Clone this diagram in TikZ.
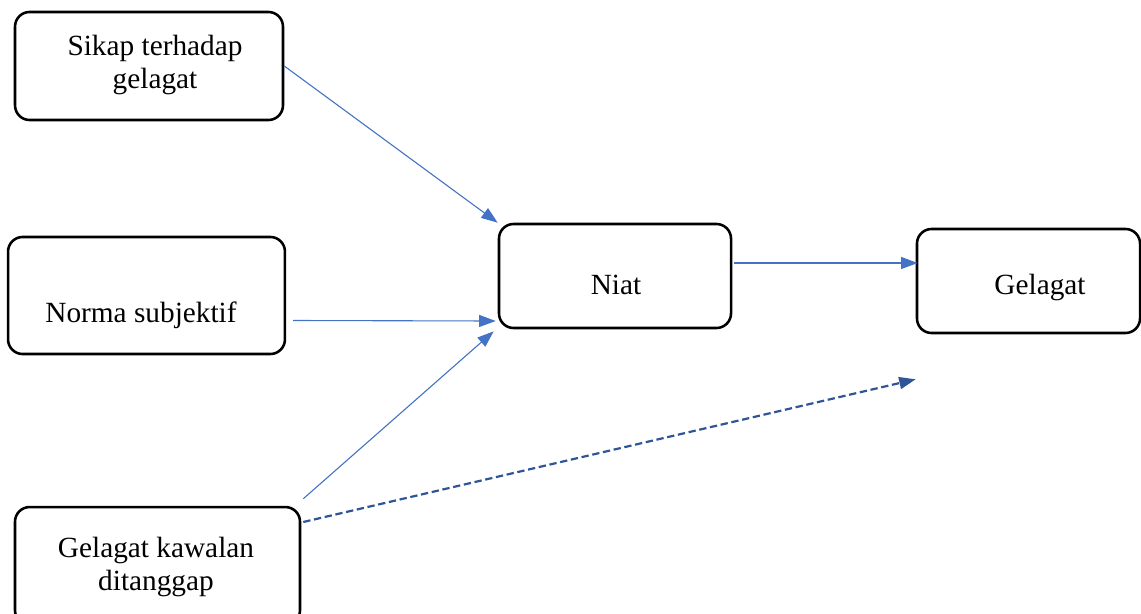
\documentclass[tikz,border=0pt]{standalone}
\usepackage{fontspec}
\setmainfont{Liberation Serif}
\usetikzlibrary{arrows.meta, positioning}
\definecolor{linkblue}{HTML}{4472C4}
\definecolor{ctrlblue}{HTML}{2F5597}
\tikzset{x=0.546pt, y=-0.546pt, % One unit is one pixel of the reference
  box/.style={ % Sets the properties for each box
    draw,
    line width=1.4pt,
    rounded corners=8pt},
  txt/.style={ % Text sits on the baseline of its last line
    font=\fontsize{16}{17.5}\selectfont,
    align=center,
    anchor=base},
  link/.style={ % Solid blue paths
    draw=linkblue,
    line width=0.6pt,
    -{Triangle[length=9pt,width=6.5pt]}},
  ctrl/.style={ % Dashed path of the perceived control
    draw=ctrlblue,
    line width=1.2pt,
    dash pattern=on 4pt off 2pt,
    -{Triangle[length=9pt,width=6.5pt]}}}

\begin{document}
\begin{tikzpicture}
  \useasboundingbox (0,0) rectangle (1141,613);
  \clip (0,0) rectangle (1141,613);
  \node[box, minimum width=146.3pt, minimum height=59pt] (sikap) at (149,66) {};
  \node[box, minimum width=151.2pt, minimum height=63.9pt] (norma) at (146.5,295.5) {};
  \node[box, minimum width=155.6pt, minimum height=64.4pt] (kawalan) at (157.5,566) {};
  \node[box, minimum width=126.7pt, minimum height=56.8pt] (niat) at (615,276) {};
  \node[box, minimum width=121.8pt, minimum height=56.8pt] (gelagat) at (1028.5,281) {};
  \node[txt] (sikap-t) at (155,88) {Sikap terhadap\\gelagat};
  \node[txt] (norma-t) at (141,322) {Norma subjektif};
  \node[txt] (kawalan-t) at (156,590) {Gelagat kawalan\\ditanggap};
  \node[txt] (niat-t) at (616,294) {Niat};
  \node[txt] (gelagat-t) at (1040,294) {Gelagat};
  \draw (sikap.east) edge[link] (niat.north west);
  \draw ([shift={(7,25)}]norma.east) edge[link] ([shift={(-2,45)}]niat.west);
  \draw ([shift={(2,-7)}]kawalan.north east) edge[link] ([shift={(-4,2)}]niat.south west);
  \draw ([shift={(2,-13)}]niat.east) edge[link] ([shift={(2,-18)}]gelagat.west);
  \draw ([shift={(2,-44)}]kawalan.east) edge[ctrl] ([shift={(0,45)}]gelagat.south west);
\end{tikzpicture}
\end{document}
